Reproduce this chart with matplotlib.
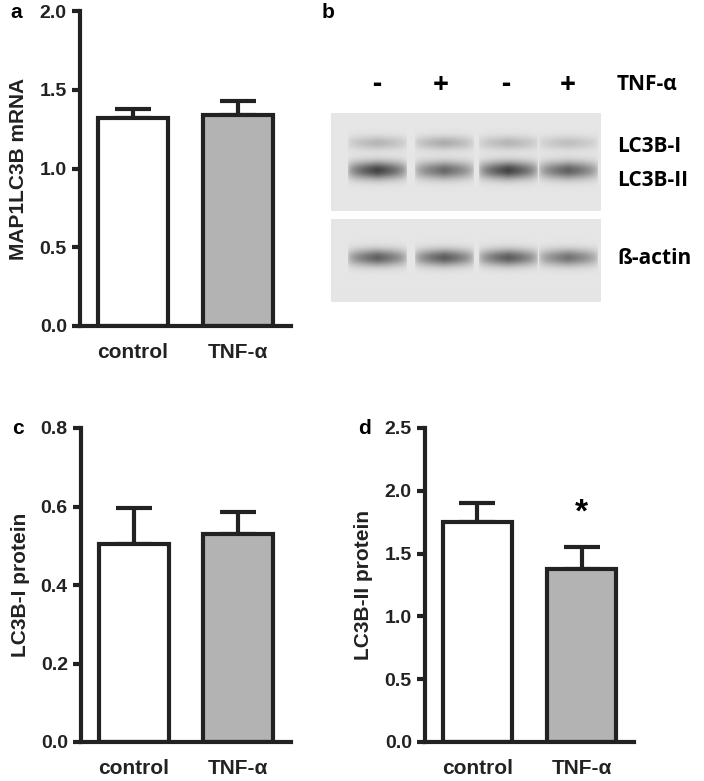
import numpy as np
import matplotlib
matplotlib.use("Agg")
import matplotlib.pyplot as plt

plt.rcParams['font.family'] = ['Liberation Sans', 'DejaVu Sans']
plt.rcParams['font.weight'] = 'bold'

groups = ["control", "TNF-α"]
mrna = [1.32, 1.34]; mrna_err = [0.06, 0.09]
lc3b1 = [0.505, 0.53]; lc3b1_err = [0.09, 0.057]
lc3b2 = [1.75, 1.38]; lc3b2_err = [0.15, 0.17]
treat = ["-", "+", "-", "+"]
band_I = [0.25, 0.3, 0.25, 0.2]
band_II = [0.85, 0.65, 0.85, 0.7]
band_actin = [0.7, 0.72, 0.72, 0.6]

W, H = 704, 781
fig = plt.figure(figsize=(W/100, H/100), dpi=100)

def ax_px(l, t, r, b):
    return fig.add_axes([l/W, 1-b/H, (r-l)/W, (b-t)/H])

def barpanel(ax, vals, errs, ymax, step, ylabel, lbl_x, star=False):
    cols = ['white', '#b3b3b3']
    xs = [53, 158]
    ax.bar(xs, vals, width=70, color=cols, edgecolor='#222222', linewidth=3, zorder=2)
    ax.errorbar(xs, vals, yerr=[[0, 0], errs], fmt='none', ecolor='#222222',
                elinewidth=3, capsize=13, capthick=3, zorder=1)
    ax.set_xlim(0, 211)
    ax.set_ylim(0, ymax)
    ax.set_yticks(np.arange(0, ymax + 1e-9, step))
    ax.set_yticklabels([f"{v:.1f}" for v in np.arange(0, ymax + 1e-9, step)])
    ax.set_xticks(xs)
    ax.set_xticklabels(groups)
    for s in ['top', 'right']:
        ax.spines[s].set_visible(False)
    for s in ['left', 'bottom']:
        ax.spines[s].set_linewidth(3)
        ax.spines[s].set_color('#222222')
    ax.tick_params(axis='y', width=3, length=6, labelsize=14, colors='#222222')
    ax.tick_params(axis='x', length=0, labelsize=15, pad=12, colors='#222222')
    ax.set_ylabel(ylabel, fontsize=15, fontweight='bold', color='#222222', labelpad=8)
    if star:
        ax.text(xs[1], vals[1] + errs[1] + ymax*0.06, "*", ha='center', va='bottom',
                fontsize=24, fontweight='bold')
    for t in ax.get_yticklabels() + ax.get_xticklabels():
        t.set_fontweight('bold')

axa = ax_px(80, 11, 291, 326)
barpanel(axa, mrna, mrna_err, 2.0, 0.5, "MAP1LC3B mRNA", 10)
axc = ax_px(81, 428, 291, 742)
barpanel(axc, lc3b1, lc3b1_err, 0.8, 0.2, "LC3B-I protein", 12)
axd = ax_px(425, 428, 634, 742)
barpanel(axd, lc3b2, lc3b2_err, 2.5, 0.5, "LC3B-II protein", 360, star=True)

for lab, x, y in [("a", 10, 12), ("b", 322, 12), ("c", 12, 428), ("d", 358, 428)]:
    fig.text(x/W, 1-y/H, lab, fontsize=15, fontweight='bold', va='center')

# western blot
def blot(t, b, rows):
    ax = ax_px(331, t, 601, b)
    h = 100
    w = 270
    img = np.zeros((h, w))
    yy = np.arange(h)[:, None]
    xx = np.arange(w)[None, :]
    centers = [46, 113, 177, 237]
    for yc, sy, ints in rows:
        for c, v in zip(centers, ints):
            prof_x = np.clip(1 - np.abs(xx - c) / 30, 0, 1) ** 0.4
            img += v * prof_x * np.exp(-((yy - yc) / sy) ** 2)
    gray = 0.9 - 0.75 * np.clip(img, 0, 1)
    ax.imshow(gray, cmap='gray', vmin=0, vmax=1, aspect='auto', interpolation='bilinear')
    ax.axis('off')

blot(113, 211, [(30, 7, band_I), (58, 9, band_II)])
blot(219, 302, [(46, 10, band_actin)])

for s, x in zip(treat, [377, 441, 506, 568]):
    fig.text(x/W, 1-85/H, s, fontsize=20, fontweight='bold', ha='center', va='center',
             family=['Open Sans', 'DejaVu Sans'])
fig.text(617/W, 1-85/H, "TNF-α", fontsize=15, fontweight='bold', va='center',
         family=['Open Sans', 'DejaVu Sans'])
for s, y in [("LC3B-I", 147), ("LC3B-II", 180), ("ß-actin", 258)]:
    fig.text(617/W, 1-y/H, s, fontsize=15, fontweight='bold', va='center',
             family=['Open Sans', 'DejaVu Sans'])

fig.savefig("out.png", dpi=100)
